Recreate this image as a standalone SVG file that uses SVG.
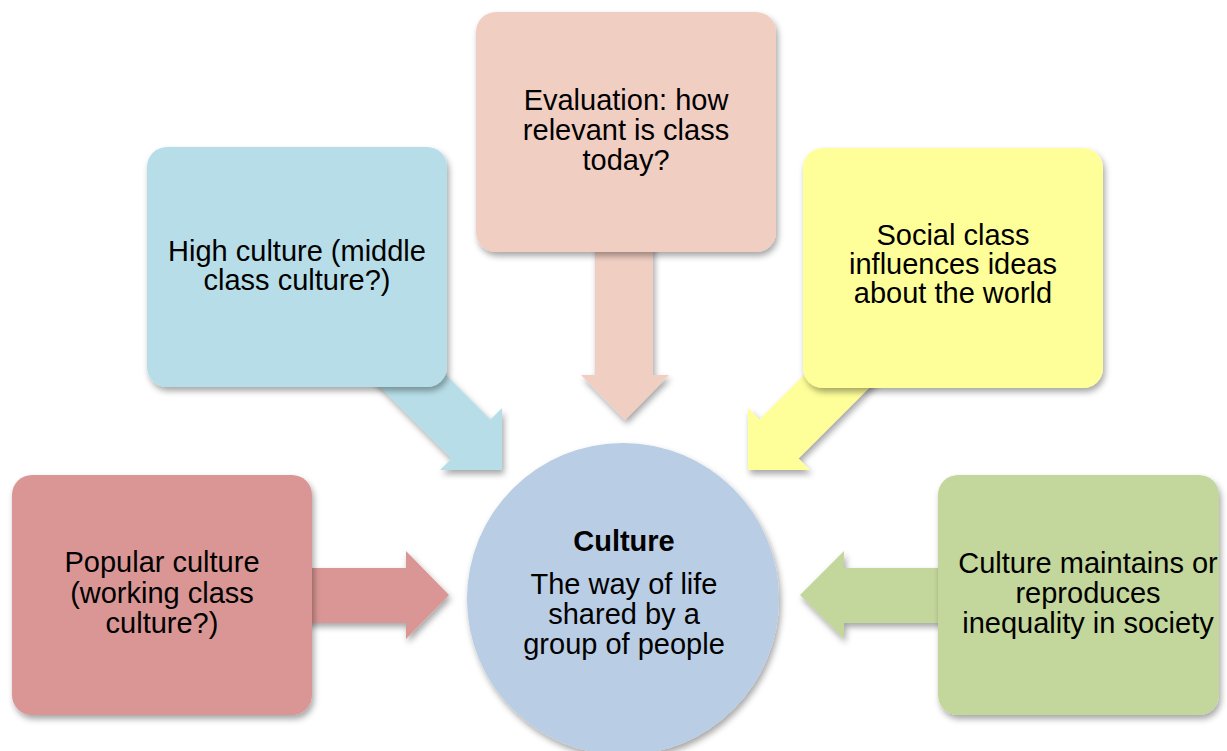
<svg xmlns="http://www.w3.org/2000/svg" width="1227" height="751" viewBox="0 0 1227 751">
<defs>
<filter id="sh" x="-20%" y="-20%" width="140%" height="140%">
<feDropShadow dx="2" dy="4" stdDeviation="3" flood-color="#000" flood-opacity="0.35"/>
</filter>
<style>
.t{font-family:"Liberation Sans",Arial,sans-serif;font-size:29px;fill:#000;text-anchor:middle}
.b{font-weight:bold}
.box{filter:url(#sh)}
</style>
</defs>
<rect width="1227" height="751" fill="#fff"/>
<g id="connectors">
<polygon class="box" fill="#f1cec2" points="595,230 653,230 653,375 669,375 625,420 581,375 595,375"/>
<polygon class="box" fill="#d99694" points="290,568 406,568 406,551 449,595 406,639 406,623 290,623"/>
<polygon class="box" fill="#c3d69b" points="950,568 844,568 844,551 800,595 844,639 844,623 950,623"/>
<polygon class="box" fill="#b7dee8" points="395.5,324.5 490.5,419.5 502,408 502,470 440,470 451.5,458.5 356.5,363.5"/>
<polygon class="box" fill="#ffff99" points="849.5,329.5 759.5,419.5 748,408 748,470 810,470 798.5,458.5 888.5,368.5"/>
</g>
<g id="popular">
<rect class="box" x="12" y="475" width="300" height="240" rx="20" fill="#d99694"/>
<text class="t" x="162" y="572">Popular culture</text>
<text class="t" x="162" y="603">(working class</text>
<text class="t" x="162" y="633">culture?)</text>
</g>
<g id="high">
<rect class="box" x="147" y="147" width="300" height="240" rx="20" fill="#b7dee8"/>
<text class="t" x="297" y="261">High culture (middle</text>
<text class="t" x="297" y="290">class culture?)</text>
</g>
<g id="evaluation">
<rect class="box" x="476" y="12" width="300" height="240" rx="20" fill="#f1cec2"/>
<text class="t" x="626" y="110">Evaluation: how</text>
<text class="t" x="626" y="140">relevant is class</text>
<text class="t" x="626" y="170">today?</text>
</g>
<g id="social">
<rect class="box" x="803" y="148" width="300" height="240" rx="20" fill="#ffff99"/>
<text class="t" x="953" y="245">Social class</text>
<text class="t" x="953" y="274">influences ideas</text>
<text class="t" x="953" y="303">about the world</text>
</g>
<g id="maintains">
<rect class="box" x="938" y="475" width="281" height="240" rx="20" fill="#c3d69b"/>
<text class="t" x="1088" y="573">Culture maintains or</text>
<text class="t" x="1088" y="603">reproduces</text>
<text class="t" x="1088" y="633">inequality in society</text>
</g>
<g id="culture">
<circle class="box" cx="623" cy="599" r="156" fill="#b9cde5"/>
<text class="t b" x="624" y="551">Culture</text>
<text class="t" x="624" y="594">The way of life</text>
<text class="t" x="624" y="624">shared by a</text>
<text class="t" x="624" y="654">group of people</text>
</g>
</svg>
